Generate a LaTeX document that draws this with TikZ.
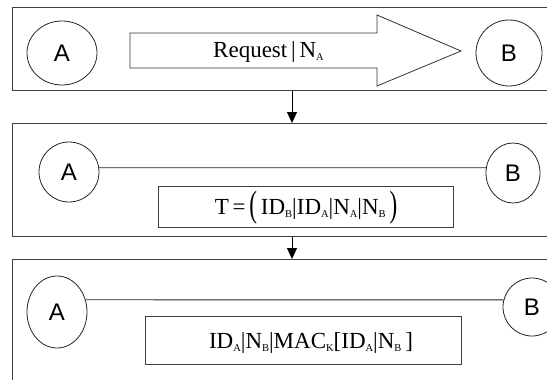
\documentclass[tikz,border=0pt]{standalone}
\usepackage{fontspec}
\setmainfont{Liberation Serif}
\newfontfamily\arialf{Liberation Sans}
\usetikzlibrary{shapes.geometric,arrows.meta}
\newcommand{\subsc}[1]{\raisebox{-3.5pt}{\fontsize{10.5}{10.5}\selectfont #1}}
\newcommand{\bigpar}[1]{\raisebox{-2.5pt}{\scalebox{1}[1.6]{#1}}}
\begin{document}
\begin{tikzpicture}[x=1pt,y=-1pt,
  panel/.style={draw=black!75, line width=1.3pt, rectangle, anchor=north west, inner sep=0pt},
  party/.style={draw=black!85, line width=0.8pt, ellipse, inner sep=0pt, font=\arialf\fontsize{24}{24}\selectfont},
  msgbox/.style={draw=black!75, line width=1pt, rectangle, inner sep=0pt},
  link/.style={draw=black!85, line width=0.8pt},
  flow/.style={draw=black, line width=1pt, -{Triangle[length=11pt,width=10pt]}},
  msg/.style={font=\fontsize{23}{26}\selectfont, inner sep=0pt}
]
\useasboundingbox (0,0) rectangle (547,380);
\clip (0,0) rectangle (547,380);
\fill[white] (0,0) rectangle (547,380);

% panels
\node[panel, minimum width=560pt, minimum height=83pt] (p1) at (12,7) {};
\node[panel, minimum width=560pt, minimum height=113pt] (p2) at (12,123) {};
\node[panel, minimum width=560pt, minimum height=150pt] (p3) at (12,259) {};

% panel 1
\node[party, minimum width=70pt, minimum height=64pt] (a1) at (62,53) {A};
\node[party, minimum width=66pt, minimum height=66pt] (b1) at (509,53) {B};
\draw[draw=black!80, line width=0.8pt, fill=white]
  (130,33) -- (377,33) -- (377,15) -- (461,51) -- (377,86) -- (377,68) -- (130,68) -- cycle;
\node[msg, anchor=base west] (req) at (213,57) {Request\,|\,N\subsc{A}};

% panel 2
\node[party, minimum width=60pt, minimum height=60pt] (a2) at (69,172) {A};
\node[party, minimum width=54pt, minimum height=60pt] (b2) at (513,173) {B};
\draw[link] (a2.8) -- (b2.169);
\node[msgbox, minimum width=295pt, minimum height=41pt] (m2) at (305.5,206.5) {};
\node[msg, anchor=base] (t2) at (306,214) {T\,=\,\bigpar{(}\,ID\subsc{B}|ID\subsc{A}|N\subsc{A}|N\subsc{B}\,\bigpar{)}};

% panel 3
\node[party, minimum width=60pt, minimum height=72pt] (a3) at (57,312) {A};
\node[party, minimum width=58pt, minimum height=58pt] (b3) at (532,307) {B};
\draw[link] (a3.23) -- (b3.166);
\node[msgbox, minimum width=316pt, minimum height=48pt] (m3) at (303,340) {};
\node[msg, anchor=base] (t3) at (311,348) {ID\subsc{A}|N\subsc{B}|MAC\subsc{K}[ID\subsc{A}|N\subsc{B}\,]};

% flow arrows
\coordinate (fx) at (292,0);
\draw[flow] (p1.south -| fx) -- (p2.north -| fx);
\draw[flow] (p2.south -| fx) -- (p3.north -| fx);
\end{tikzpicture}
\end{document}
